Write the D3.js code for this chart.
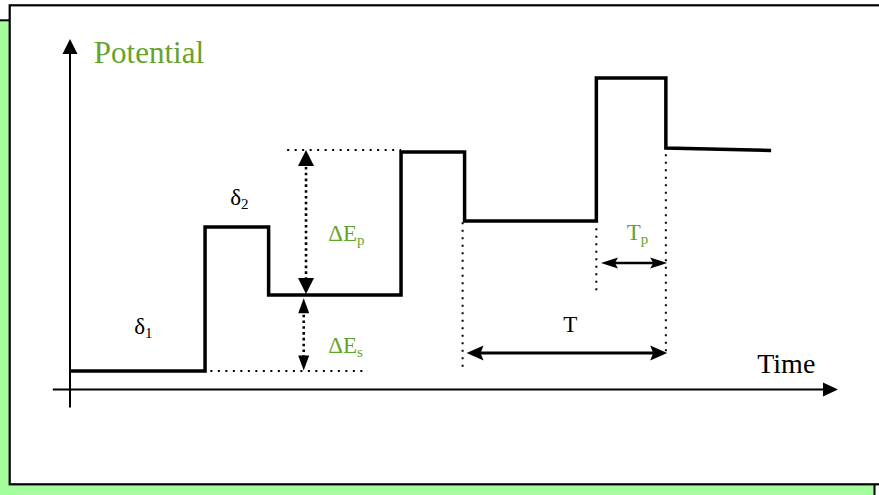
<!DOCTYPE html>
<html>
<head>
<meta charset="utf-8">
<script src="https://cdn.jsdelivr.net/npm/d3@7"></script>
<style>
  body { margin: 0; background: #fff; }
</style>
</head>
<body>
<div id="chart"></div>
<script>
// waveform: each segment starts at a time and holds a potential level
var segmentStarts = [0, 2.04, 3.0, 5.0, 5.96, 7.95, 9.0];
var segmentLevels = [1.85, 16.23, 9.44, 23.72, 16.83, 31.11, 24.12];
var waveEnd = [10.59, 23.87];

// axis extents (time, potential)
var timeDomain = [0, 11.6];
var potentialDomain = [0, 35];
var axisStart = [-0.26, -1.8];

// dotted guide lines [t1, E1, t2, E2]
var guides = [
  [2.12, 1.85, 4.5, 1.85],
  [3.28, 23.92, 5.0, 23.92],
  [5.93, 16.7, 5.93, 1.9],
  [7.95, 16.1, 7.95, 9.79],
  [9.0, 23.5, 9.0, 3.74]
];

// double arrows [t1, E1, t2, E2]
var deltaEpArrow = [3.565, 23.92, 3.565, 9.54];
var deltaEsArrow = [3.53, 9.1, 3.53, 1.9];
var periodArrow = [5.99, 3.64, 9.02, 3.64];
var pulseArrow = [8.02, 12.63, 9.02, 12.63];

// labels: [text, subscript, t, E]
var labels = [
  ["\u03B4", "1", 0.97, 5.54],
  ["\u03B4", "2", 2.42, 18.42],
  ["\u0394E", "p", 3.9, 14.83],
  ["\u0394E", "s", 3.9, 3.64],
  ["T", "", 7.45, 5.74],
  ["T", "p", 8.41, 14.93]
];
var labelColors = ["#000", "#000", "#66a32c", "#66a32c", "#000", "#66a32c"];

var width = 879, height = 495;
var green = "#66a32c";
var serif = "'Liberation Serif', 'Times New Roman', serif";

var svg = d3.select("#chart").append("svg")
  .attr("width", width)
  .attr("height", height);

// frame: green box behind, white panel on top
svg.append("rect")
  .attr("x", -2).attr("y", 20.3)
  .attr("width", 876.5).attr("height", 480)
  .attr("fill", "#a3fd9b")
  .attr("stroke", "#000").attr("stroke-width", 2);
svg.append("rect")
  .attr("x", 9.7).attr("y", 5.3)
  .attr("width", 880).attr("height", 479)
  .attr("fill", "#fff")
  .attr("stroke", "#000").attr("stroke-width", 2.2);

var x = d3.scaleLinear().domain(timeDomain).range([70, 838]);
var y = d3.scaleLinear().domain(potentialDomain).range([389.5, 39]);

// arrowhead polygon with tip at (tx,ty), pointing along (dx,dy)
function head(g, tx, ty, dx, dy, len, wid, notch) {
  var n = Math.sqrt(dx * dx + dy * dy);
  var ux = dx / n, uy = dy / n;
  var px = -uy, py = ux;
  var bx = tx - ux * len, by = ty - uy * len;
  var nx = tx - ux * len * (notch || 1), ny = ty - uy * len * (notch || 1);
  var pts = [
    [tx, ty],
    [bx + px * wid / 2, by + py * wid / 2],
    [nx, ny],
    [bx - px * wid / 2, by - py * wid / 2]
  ];
  g.append("path")
    .attr("d", "M" + pts.join("L") + "Z")
    .attr("fill", "#000");
}

function arrow(d, opt) {
  var x1 = x(d[0]), y1 = y(d[1]), x2 = x(d[2]), y2 = y(d[3]);
  var dx = x2 - x1, dy = y2 - y1;
  var n = Math.sqrt(dx * dx + dy * dy);
  var ux = dx / n, uy = dy / n;
  var g = svg.append("g");
  var s = opt.both ? opt.len * 0.7 : 0;
  g.append("line")
    .attr("x1", x1 + ux * s).attr("y1", y1 + uy * s)
    .attr("x2", x2 - ux * opt.len * 0.7).attr("y2", y2 - uy * opt.len * 0.7)
    .attr("stroke", "#000")
    .attr("stroke-width", opt.width)
    .attr("stroke-dasharray", opt.dash || null);
  head(g, x2, y2, dx, dy, opt.len, opt.wid, opt.notch);
  if (opt.both) head(g, x1, y1, -dx, -dy, opt.len, opt.wid, opt.notch);
}

// axes
arrow([axisStart[0], 0, timeDomain[1], 0], {width: 2, len: 15, wid: 14});
arrow([0, axisStart[1], 0, potentialDomain[1]], {width: 2, len: 15, wid: 15});

// dotted guides
svg.append("g").selectAll("line")
  .data(guides)
  .enter()
  .append("line")
  .attr("x1", function (d) { return x(d[0]); })
  .attr("y1", function (d) { return y(d[1]); })
  .attr("x2", function (d) { return x(d[2]); })
  .attr("y2", function (d) { return y(d[3]); })
  .attr("stroke", "#000")
  .attr("stroke-width", 2)
  .attr("stroke-dasharray", "2 5.5");

// waveform
var pts = [];
segmentStarts.forEach(function (t, i) {
  if (i > 0) pts.push([t, segmentLevels[i - 1]]);
  pts.push([t, segmentLevels[i]]);
});
pts.push(waveEnd);

svg.append("path")
  .datum(pts)
  .attr("fill", "none")
  .attr("stroke", "#000")
  .attr("stroke-width", 3.5)
  .attr("stroke-linejoin", "miter")
  .attr("d", d3.line()
    .x(function (d) { return x(d[0]); })
    .y(function (d) { return y(d[1]); }));

// annotation arrows
arrow(deltaEpArrow, {width: 2.6, len: 16, wid: 16, both: true, dash: "2.6 3.2"});
arrow(deltaEsArrow, {width: 2.6, len: 15, wid: 11, both: true, dash: "2.6 3.2"});
arrow(periodArrow, {width: 3, len: 17, wid: 15, both: true, notch: 0.82});
arrow(pulseArrow, {width: 2.6, len: 17, wid: 11, both: true, notch: 0.82});

// labels with subscripts
var lab = svg.append("g").selectAll("text")
  .data(labels)
  .enter()
  .append("text")
  .attr("x", function (d) { return x(d[2]); })
  .attr("y", function (d) { return y(d[3]); })
  .attr("fill", function (d, i) { return labelColors[i]; })
  .attr("font-family", serif)
  .attr("font-size", 23);
lab.append("tspan").text(function (d) { return d[0]; });
lab.append("tspan")
  .attr("font-size", 15)
  .attr("dy", 4)
  .text(function (d) { return d[1]; });

// axis titles
svg.append("text")
  .attr("x", x(0.36)).attr("y", y(32.6))
  .attr("fill", green)
  .attr("font-family", serif)
  .attr("font-size", 31)
  .text("Potential");
svg.append("text")
  .attr("x", x(10.38)).attr("y", y(1.65))
  .attr("fill", "#000")
  .attr("font-family", serif)
  .attr("font-size", 28)
  .text("Time");
</script>
</body>
</html>
